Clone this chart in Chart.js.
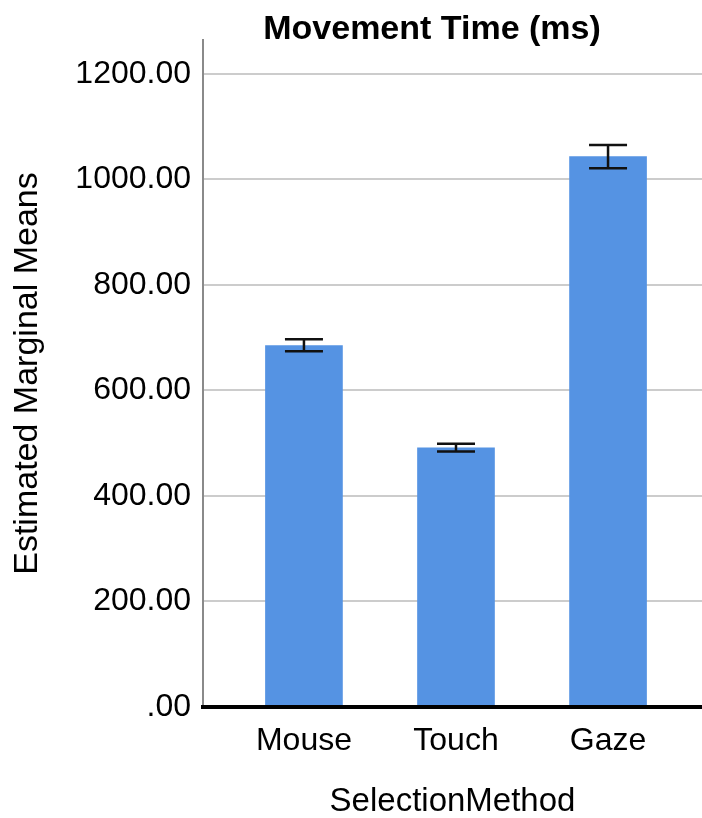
<!DOCTYPE html>
<html>
<head>
<meta charset="utf-8">
<script src="https://cdn.jsdelivr.net/npm/chart.js@4/dist/chart.umd.min.js"></script>
<style>
  html, body { margin: 0; padding: 0; background: #ffffff; }
  #wrap { width: 702px; height: 818px; }
</style>
</head>
<body>
<div id="wrap"><canvas id="chart" width="702" height="818"></canvas></div>
<script>
// Estimated marginal means of movement time by selection method, with 95% CI
const categories = ['Mouse', 'Touch', 'Gaze'];
const means = [685, 491, 1043];
const ciLower = [674, 484, 1021];
const ciUpper = [697, 499, 1065];
const yTicks = [0, 200, 400, 600, 800, 1000, 1200];

const FONT = '"Liberation Sans", Arial, Helvetica, sans-serif';
const chartTitle = 'Movement Time (ms)';

// Chart title drawn above the plot, centred over the bars
const titlePlugin = {
  id: 'plotTitle',
  afterDraw(chart) {
    const ctx = chart.ctx;
    ctx.save();
    ctx.font = 'bold 34px ' + FONT;
    ctx.fillStyle = '#000000';
    ctx.textAlign = 'center';
    ctx.textBaseline = 'alphabetic';
    ctx.fillText(chartTitle, 432, 39);
    ctx.restore();
  }
};

// Confidence-interval whiskers with caps
const errorBarPlugin = {
  id: 'errorBars',
  afterDatasetsDraw(chart) {
    const ctx = chart.ctx;
    const xs = chart.scales.x;
    const ys = chart.scales.y;
    ctx.save();
    ctx.strokeStyle = '#111111';
    ctx.lineWidth = 2.5;
    const capHalf = 19;
    categories.forEach((c, i) => {
      const x = xs.getPixelForValue(i);
      const yLo = ys.getPixelForValue(ciLower[i]);
      const yHi = ys.getPixelForValue(ciUpper[i]);
      ctx.beginPath();
      ctx.moveTo(x, yLo); ctx.lineTo(x, yHi);
      ctx.moveTo(x - capHalf, yLo); ctx.lineTo(x + capHalf, yLo);
      ctx.moveTo(x - capHalf, yHi); ctx.lineTo(x + capHalf, yHi);
      ctx.stroke();
    });
    ctx.restore();
  }
};

new Chart(document.getElementById('chart'), {
  type: 'bar',
  data: {
    datasets: [{
      data: categories.map((c, i) => ({ x: i, y: means[i] })),
      backgroundColor: '#5593E3',
      borderWidth: 0,
      barThickness: 77
    }]
  },
  options: {
    responsive: false,
    animation: false,
    devicePixelRatio: 1,
    layout: { padding: { top: 40, right: 0, bottom: 0, left: 0 } },
    plugins: {
      legend: { display: false },
      tooltip: { enabled: false },
      title: { display: false }
    },
    scales: {
      x: {
        type: 'linear',
        offset: false,
        min: -0.664,
        max: 2.618,
        afterBuildTicks: (scale) => { scale.ticks = categories.map((c, i) => ({ value: i })); },
        afterFit: (scale) => { scale.height = 111; },
        grid: { display: false, drawTicks: false },
        border: { display: true, color: '#000000', width: 4, z: 1 },
        ticks: {
          autoSkip: false,
          maxRotation: 0,
          padding: 15,
          color: '#000000',
          font: { family: FONT, size: 32 },
          callback: (v) => categories[v]
        },
        title: {
          display: true,
          text: 'SelectionMethod',
          color: '#000000',
          font: { family: FONT, size: 33, lineHeight: 1 },
          padding: { top: 0, bottom: 0 }
        }
      },
      y: {
        min: 0,
        max: 1264,
        afterBuildTicks: (scale) => { scale.ticks = yTicks.map(v => ({ value: v })); },
        afterFit: (scale) => { scale.width = 203; },
        grid: { color: '#cccccc', lineWidth: 2, drawTicks: false },
        border: { display: true, color: '#8a8a8a', width: 2 },
        ticks: {
          padding: 12,
          color: '#000000',
          font: { family: FONT, size: 32 },
          callback: (v) => (v === 0 ? '.00' : v.toFixed(2))
        },
        title: {
          display: true,
          text: 'Estimated Marginal Means',
          color: '#000000',
          font: { family: FONT, size: 34, lineHeight: 1 },
          padding: { top: 11, bottom: 0 }
        }
      }
    }
  },
  plugins: [titlePlugin, errorBarPlugin]
});
</script>
</body>
</html>
